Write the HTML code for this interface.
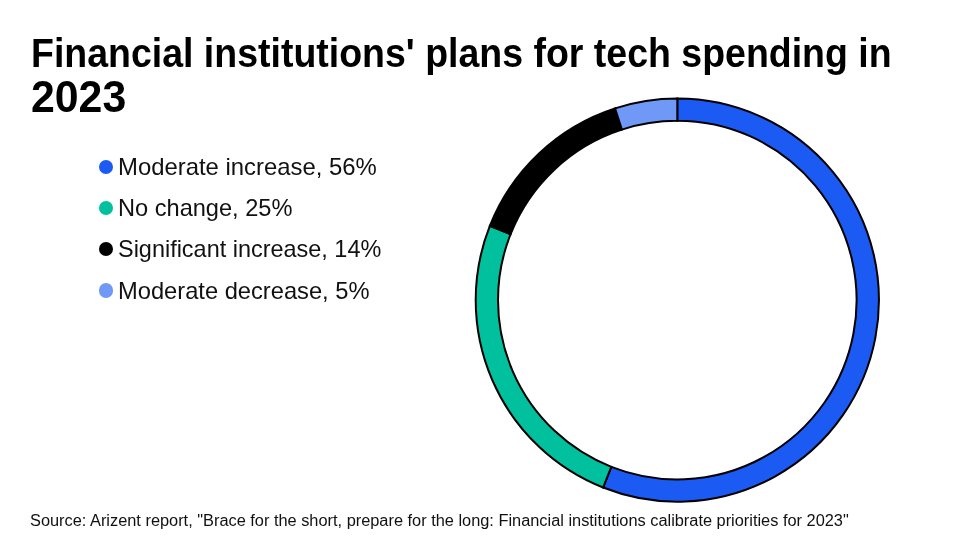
<!DOCTYPE html>
<html><head><meta charset="utf-8">
<style>
html,body{margin:0;padding:0;background:#fff;width:978px;height:550px;overflow:hidden}
body{position:relative;font-family:"Liberation Sans",sans-serif;color:#000}
.t{position:absolute;white-space:nowrap;transform-origin:0 0;line-height:1;filter:grayscale(100%)}
.title{font-weight:bold;font-size:41px}
.leg{font-size:24px;color:#111}
.dot{position:absolute;width:14.4px;height:14.4px;border-radius:50%;margin:-0.2px 0 0 -0.2px}
.src{font-size:16px;color:#111}
svg{position:absolute;left:0;top:0}
</style></head><body>
<div class="t title" style="left:31px;top:32.5px;font-size:40px;transform:scaleX(0.937)">Financial institutions' plans for tech spending in</div>
<div class="t title" style="left:31px;top:75.8px;font-size:43.5px;transform:scaleX(0.984)">2023</div>
<div class="dot" style="left:99px;top:159.7px;background:#1b5bf4"></div>
<div class="dot" style="left:99px;top:200.9px;background:#00c09e"></div>
<div class="dot" style="left:99px;top:242.1px;background:#000"></div>
<div class="dot" style="left:99px;top:283.3px;background:#7098f6"></div>
<div class="t leg" style="left:118px;top:155px;transform:scaleX(0.995)">Moderate increase, 56%</div>
<div class="t leg" style="left:118px;top:196.2px;transform:scaleX(0.983)">No change, 25%</div>
<div class="t leg" style="left:118px;top:237.4px;transform:scaleX(0.977)">Significant increase, 14%</div>
<div class="t leg" style="left:118px;top:278.6px;transform:scaleX(0.987)">Moderate decrease, 5%</div>
<div class="t src" style="left:30px;top:512.5px;transform:scaleX(1.022)">Source: Arizent report, "Brace for the short, prepare for the long: Financial institutions calibrate priorities for 2023"</div>
<svg width="978" height="550" viewBox="0 0 978 550">
<g stroke="#000" stroke-width="2" stroke-linejoin="miter">
<path d="M677.30 98.50A201.6 201.6 0 1 1 603.09 487.54L611.30 466.81A179.3 179.3 0 1 0 677.30 120.80Z" fill="#1b5bf4"/>
<path d="M603.09 487.54A201.6 201.6 0 0 1 489.86 225.89L510.59 234.10A179.3 179.3 0 0 0 611.30 466.81Z" fill="#00c09e"/>
<path d="M489.86 225.89A201.6 201.6 0 0 1 615.00 108.37L621.89 129.58A179.3 179.3 0 0 0 510.59 234.10Z" fill="#000000"/>
<path d="M615.00 108.37A201.6 201.6 0 0 1 677.30 98.50L677.30 120.80A179.3 179.3 0 0 0 621.89 129.58Z" fill="#7098f6"/>
</g>
</svg>
</body></html>
